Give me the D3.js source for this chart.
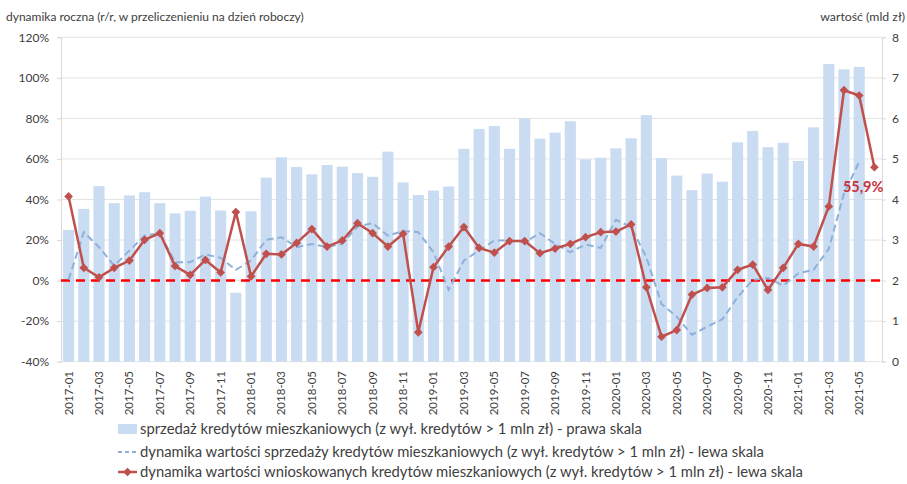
<!DOCTYPE html>
<html>
<head>
<meta charset="utf-8">
<script src="https://cdn.jsdelivr.net/npm/d3@7"></script>
<style>
    body { margin: 0; background: #fff; }
    svg text { font-family: Lato, "Open Sans", sans-serif; fill: #404040; }
</style>
</head>
<body>
<div id="chart"></div>
<script>

var months = [
    "2017-01", "2017-02", "2017-03", "2017-04", "2017-05", "2017-06", "2017-07", "2017-08", "2017-09", "2017-10", "2017-11", "2017-12",
    "2018-01", "2018-02", "2018-03", "2018-04", "2018-05", "2018-06", "2018-07", "2018-08", "2018-09", "2018-10", "2018-11", "2018-12",
    "2019-01", "2019-02", "2019-03", "2019-04", "2019-05", "2019-06", "2019-07", "2019-08", "2019-09", "2019-10", "2019-11", "2019-12",
    "2020-01", "2020-02", "2020-03", "2020-04", "2020-05", "2020-06", "2020-07", "2020-08", "2020-09", "2020-10", "2020-11", "2020-12",
    "2021-01", "2021-02", "2021-03", "2021-04", "2021-05", "2021-06"
];

// sprzedaz kredytow, mld zl (prawa skala)
var salesValue = [
    3.25, 3.77, 4.33, 3.91, 4.10, 4.18, 3.91, 3.66, 3.72, 4.07, 3.73, 1.70,
    3.71, 4.54, 5.04, 4.80, 4.62, 4.85, 4.81, 4.65, 4.56, 5.18, 4.42, 4.11,
    4.22, 4.32, 5.25, 5.74, 5.81, 5.25, 6.00, 5.50, 5.65, 5.93, 4.99, 5.03,
    5.26, 5.51, 6.08, 5.02, 4.59, 4.23, 4.64, 4.44, 5.41, 5.69, 5.29, 5.40,
    4.95, 5.78, 7.34, 7.21, 7.27, null
];

// dynamika wartosci sprzedazy, % (lewa skala)
var salesGrowth = [
    0.5, 23.9, 16.5, 7.4, 14.8, 22.2, 23.4, 9.1, 9.1, 12.9, 11.2, 5.3,
    9.9, 20.1, 21.4, 16.5, 18.1, 16.5, 18.1, 26.7, 28.3, 22.2, 24.4, 23.9,
    14.0, -4.6, 9.9, 14.8, 19.8, 19.8, 18.9, 23.4, 18.1, 14.0, 17.8, 16.1,
    30.0, 26.4, 11.5, -11.5, -17.8, -26.7, -22.7, -19.1, -8.2, 0.3, 1.3, -2.5,
    3.6, 5.3, 15.7, 42.9, 58.5, null
];

// dynamika wartosci wnioskowanych kredytow, % (lewa skala)
var applicationsGrowth = [
    41.5, 6.3, 1.6, 6.3, 9.9, 20.1, 23.4, 7.2, 2.8, 10.2, 4.0, 33.8,
    2.1, 13.2, 12.9, 18.6, 25.4, 16.8, 19.8, 28.3, 23.4, 16.8, 23.1, -25.5,
    6.6, 16.8, 26.4, 16.1, 13.8, 19.5, 19.5, 13.5, 15.8, 18.1, 21.4, 23.9,
    24.2, 27.7, -3.3, -27.7, -24.4, -6.9, -3.6, -3.3, 5.3, 7.9, -4.6, 6.3,
    18.1, 16.8, 36.6, 93.9, 91.3, 55.9
];

var leftTicks = [-40, -20, 0, 20, 40, 60, 80, 100, 120];
var rightTicks = [0, 1, 2, 3, 4, 5, 6, 7, 8];

var legendLabels = [
    "sprzedaż kredytów mieszkaniowych (z wył. kredytów > 1 mln zł) - prawa skala",
    "dynamika wartości sprzedaży kredytów mieszkaniowych (z wył. kredytów > 1 mln zł) - lewa skala",
    "dynamika wartości wnioskowanych kredytów mieszkaniowych (z wył. kredytów > 1 mln zł) - lewa skala"
];

var width = 907, height = 484;
var plot = { left: 61, right: 882, top: 37.3, bottom: 361.7 };

var barColor = "#c9dcf1";
var dashColor = "#8fb0d9";
var redColor = "#c0504d";

var svg = d3.select("#chart")
    .append("svg")
    .attr("width", width)
    .attr("height", height);

var x = d3.scaleBand()
    .domain(months)
    .range([plot.left, plot.right])
    .paddingInner(0.27)
    .paddingOuter(0.135);

var yL = d3.scaleLinear().domain([-40, 120]).range([plot.bottom, plot.top]);
var yR = d3.scaleLinear().domain([0, 8]).range([plot.bottom, plot.top]);

var cx = function (d, i) {
    return x(months[i]) + x.bandwidth() / 2;
};

// gridlines
svg.append("g")
    .selectAll("line")
    .data(leftTicks)
    .enter()
    .append("line")
    .attr("x1", plot.left)
    .attr("x2", plot.right)
    .attr("y1", function (d) { return yL(d); })
    .attr("y2", function (d) { return yL(d); })
    .attr("stroke", "#e3e3e3")
    .attr("stroke-width", 1);

// bars (no bar for the last month)
var barData = salesValue.map(function (v, i) {
    return { month: months[i], value: v };
}).filter(function (d) {
    return d.value !== null;
});

svg.append("g")
    .selectAll("rect")
    .data(barData)
    .enter()
    .append("rect")
    .attr("x", function (d) { return x(d.month); })
    .attr("width", x.bandwidth())
    .attr("y", function (d) { return yR(d.value); })
    .attr("height", function (d) { return yR(0) - yR(d.value); })
    .attr("fill", barColor);

// axes
var leftAxis = d3.axisLeft(yL)
    .tickValues(leftTicks)
    .tickSize(4)
    .tickPadding(8)
    .tickFormat(function (d) { return d + "%"; });

var gl = svg.append("g")
    .attr("transform", "translate(" + plot.left + ",0)")
    .call(leftAxis);

var rightAxis = d3.axisRight(yR)
    .tickValues(rightTicks)
    .tickSize(4)
    .tickPadding(6);

var gr = svg.append("g")
    .attr("transform", "translate(" + plot.right + ",0)")
    .call(rightAxis);

[gl, gr].forEach(function (g) {
    g.select(".domain").attr("stroke", "#d9d9d9");
    g.selectAll(".tick line").attr("stroke", "#d9d9d9");
    g.selectAll(".tick text")
        .style("font-family", "Lato, sans-serif")
        .style("font-size", "12px")
        .attr("fill", "#404040");
});

// month labels
svg.append("g")
    .selectAll("text")
    .data(months.filter(function (d, i) { return i % 2 === 0; }))
    .enter()
    .append("text")
    .attr("transform", function (d) {
        return "translate(" + (x(d) + x.bandwidth() / 2 + 4) + "," + 371 + ") rotate(-90)";
    })
    .attr("text-anchor", "end")
    .style("font-size", "11.5px")
    .text(function (d) { return d; });

// zero line
svg.append("line")
    .attr("x1", plot.left)
    .attr("x2", plot.right)
    .attr("y1", yL(0))
    .attr("y2", yL(0))
    .attr("stroke", "#ff0000")
    .attr("stroke-width", 2.5)
    .attr("stroke-dasharray", "9,6");

// dashed sales growth line
var lineL = d3.line()
    .defined(function (d) { return d !== null; })
    .x(cx)
    .y(function (d) { return yL(d); });

svg.append("path")
    .datum(salesGrowth)
    .attr("d", lineL)
    .attr("fill", "none")
    .attr("stroke", dashColor)
    .attr("stroke-width", 2)
    .attr("stroke-dasharray", "7,4");

// applications growth line + markers
svg.append("path")
    .datum(applicationsGrowth)
    .attr("d", lineL)
    .attr("fill", "none")
    .attr("stroke", redColor)
    .attr("stroke-width", 2.5);

// excel-like diamond: a square turned by 45 degrees
var diamond = d3.symbol().type(d3.symbolSquare).size(38);

svg.append("g")
    .selectAll("path")
    .data(applicationsGrowth)
    .enter()
    .append("path")
    .attr("d", diamond)
    .attr("transform", function (d, i) {
        return "translate(" + cx(d, i) + "," + yL(d) + ") rotate(45)";
    })
    .attr("fill", redColor);

// last value label
var last = applicationsGrowth.length - 1;
svg.append("text")
    .attr("x", cx(null, last) + 9)
    .attr("y", yL(applicationsGrowth[last]) + 25)
    .attr("text-anchor", "end")
    .style("font-size", "14.5px")
    .style("font-weight", "bold")
    .style("fill", "#c8303a")
    .text(String(applicationsGrowth[last]).replace(".", ",") + "%");

// axis titles
svg.append("text")
    .attr("x", 6)
    .attr("y", 21)
    .style("font-size", "12px")
    .text("dynamika roczna (r/r, w przeliczenieniu na dzień roboczy)");

svg.append("text")
    .attr("x", 905)
    .attr("y", 21)
    .attr("text-anchor", "end")
    .style("font-size", "12.3px")
    .text("wartość (mld zł)");

// legend
var legend = svg.append("g")
    .attr("transform", "translate(118,0)");

var rowY = [429, 452, 472];

legend.append("rect")
    .attr("x", 0)
    .attr("y", rowY[0] - 5)
    .attr("width", 19)
    .attr("height", 10)
    .attr("fill", barColor);

legend.append("line")
    .attr("x1", 0).attr("x2", 19)
    .attr("y1", rowY[1]).attr("y2", rowY[1])
    .attr("stroke", dashColor)
    .attr("stroke-width", 2)
    .attr("stroke-dasharray", "4,3");

legend.append("line")
    .attr("x1", 0).attr("x2", 19)
    .attr("y1", rowY[2]).attr("y2", rowY[2])
    .attr("stroke", redColor)
    .attr("stroke-width", 2.5);

legend.append("path")
    .attr("d", diamond)
    .attr("transform", "translate(9.5," + rowY[2] + ") rotate(45)")
    .attr("fill", redColor);

legend.selectAll("text")
    .data(legendLabels)
    .enter()
    .append("text")
    .attr("x", 22)
    .attr("y", function (d, i) { return rowY[i] + 5; })
    .style("font-size", "14.8px")
    .attr("fill", "#262626")
    .text(function (d) { return d; });

</script>
</body>
</html>
